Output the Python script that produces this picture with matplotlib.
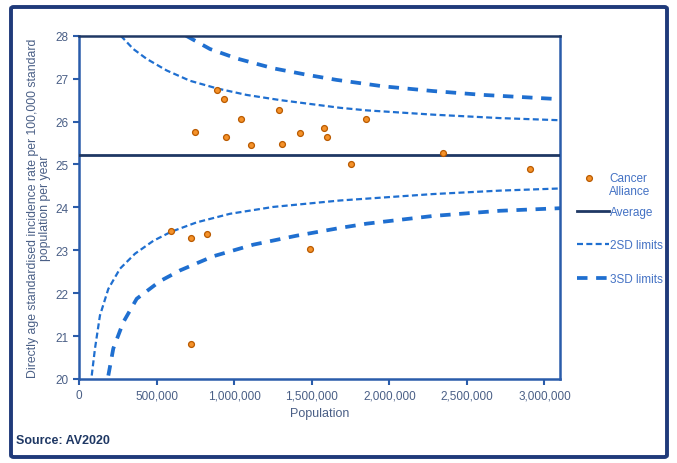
import matplotlib
matplotlib.use("Agg")
import matplotlib.pyplot as plt
from matplotlib.patches import FancyBboxPatch
from matplotlib.lines import Line2D

plt.rcParams["font.family"] = ["Liberation Sans", "DejaVu Sans"]

# Cancer Alliance points (population, rate)
alliance_pop = [890000, 935000, 1292000, 1045000, 749000, 950000, 1106000, 1309000,
                1426000, 1577000, 1601000, 1847000, 2346000, 1750000, 2908000,
                1491000, 590000, 724000, 827000, 724000]
alliance_rate = [26.74, 26.52, 26.26, 26.05, 25.76, 25.64, 25.46, 25.48,
                 25.74, 25.86, 25.64, 26.07, 25.27, 25.01, 24.89,
                 23.03, 23.44, 23.28, 23.37, 20.82]

average = 25.22
avg_pop = [0, 3100000]

# control limits
sd2_up_pop = [269000, 350000, 436000, 565000, 715000, 891000, 1080000, 1295000,
              1510000, 1682000, 1854000, 2283000, 2713000, 3100000]
sd2_up = [28.0, 27.69, 27.46, 27.19, 26.95, 26.77, 26.62, 26.50,
          26.40, 26.32, 26.26, 26.16, 26.08, 26.03]

sd2_lo_pop = [82000, 103000, 135000, 189000, 264000, 361000, 479000, 593000,
              758000, 973000, 1252000, 1682000, 2283000, 2713000, 3100000]
sd2_lo = [20.08, 20.71, 21.48, 22.10, 22.57, 22.92, 23.22, 23.43,
          23.65, 23.85, 24.01, 24.16, 24.31, 24.39, 24.44]

sd3_up_pop = [690000, 844000, 1016000, 1252000, 1467000, 1660000, 1961000,
              2283000, 2605000, 3100000]
sd3_up = [28.0, 27.69, 27.47, 27.24, 27.09, 26.97, 26.82, 26.71, 26.62, 26.52]

sd3_lo_pop = [189000, 221000, 285000, 372000, 522000, 651000, 865000, 1123000,
              1403000, 1682000, 1854000, 2283000, 2713000, 3100000]
sd3_lo = [20.08, 20.71, 21.32, 21.87, 22.28, 22.53, 22.86, 23.13,
          23.34, 23.52, 23.62, 23.80, 23.92, 23.98]

xticks = [0, 500000, 1000000, 1500000, 2000000, 2500000, 3000000]
xtick_labels = ["0", "500,000", "1,000,000", "1,500,000", "2,000,000", "2,500,000", "3,000,000"]
yticks = [20, 21, 22, 23, 24, 25, 26, 27, 28]

AXIS_BLUE = "#2A5CAA"
NAVY = "#1F3864"
LINE_BLUE = "#1F6FD0"
TEXT = "#4A5F86"
LEG_TEXT = "#4472C4"
ORANGE = "#F5922A"
ORANGE_EDGE = "#B95A00"

fig = plt.figure(figsize=(6.77, 4.64), dpi=100)
ax = fig.add_axes([79 / 677, 1 - 380 / 464, (560 - 79) / 677, (380 - 36.7) / 464])

# outer frame
frame = FancyBboxPatch((11 / 677, 6 / 464), 656 / 677, 450 / 464,
                       boxstyle="round,pad=0,rounding_size=0.004",
                       transform=fig.transFigure, fill=False,
                       edgecolor="#1F3A7A", linewidth=2.8)
fig.patches.append(frame)

ax.plot(avg_pop, [average, average], color=NAVY, lw=2, label="Average", zorder=3)
ax.plot(sd2_up_pop, sd2_up, color=LINE_BLUE, lw=1.6, dashes=(2.7, 1.5), label="2SD limits")
ax.plot(sd2_lo_pop, sd2_lo, color=LINE_BLUE, lw=1.6, dashes=(2.7, 1.5))
ax.plot(sd3_up_pop, sd3_up, color=LINE_BLUE, lw=2.7, dashes=(2.8, 2.3), label="3SD limits")
ax.plot(sd3_lo_pop, sd3_lo, color=LINE_BLUE, lw=2.7, dashes=(2.8, 2.3))
ax.scatter(alliance_pop, alliance_rate, s=18, color=ORANGE, edgecolor=ORANGE_EDGE,
           linewidth=0.9, zorder=4)

ax.set_xlim(0, 3100000)
ax.set_ylim(20, 28)
ax.set_xticks(xticks)
ax.set_xticklabels(xtick_labels)
ax.set_yticks(yticks)

for s in ax.spines.values():
    s.set_color(AXIS_BLUE)
    s.set_linewidth(1.8)
ax.spines["top"].set_color(NAVY)
ax.tick_params(colors=AXIS_BLUE, labelcolor=TEXT, labelsize=8.5, width=1.5, length=4)

ax.set_xlabel("Population", color=TEXT, fontsize=9, labelpad=4)
ax.set_ylabel("Directly age standardised incidence rate per 100,000 standard\npopulation per year",
              color=TEXT, fontsize=8.8, labelpad=3, linespacing=1.05)

# legend: lines
handles, labels = ax.get_legend_handles_labels()
fig.legend(handles, labels, loc="center left", bbox_to_anchor=(0.845, 1 - 246.5 / 464),
           frameon=False, fontsize=8.5, labelcolor=LEG_TEXT, handlelength=2.7,
           labelspacing=1.8, handletextpad=0.15, borderaxespad=0)

# legend: scatter entry
fig.add_artist(Line2D([589 / 677], [1 - 179 / 464], transform=fig.transFigure,
                      marker="o", markersize=4.2, color=ORANGE,
                      markeredgecolor=ORANGE_EDGE, markeredgewidth=0.9, linestyle="none"))
fig.text(609 / 677, 1 - 179 / 464, "Cancer\nAlliance", color=LEG_TEXT, fontsize=8.5,
         va="top", ha="left", linespacing=1.15,
         transform=fig.transFigure).set_y(1 - 173 / 464)

fig.text(16 / 677, 1 - 441 / 464, "Source: AV2020", color=NAVY, fontsize=9,
         fontweight="bold", va="center")

fig.savefig("out.png", dpi=100)
